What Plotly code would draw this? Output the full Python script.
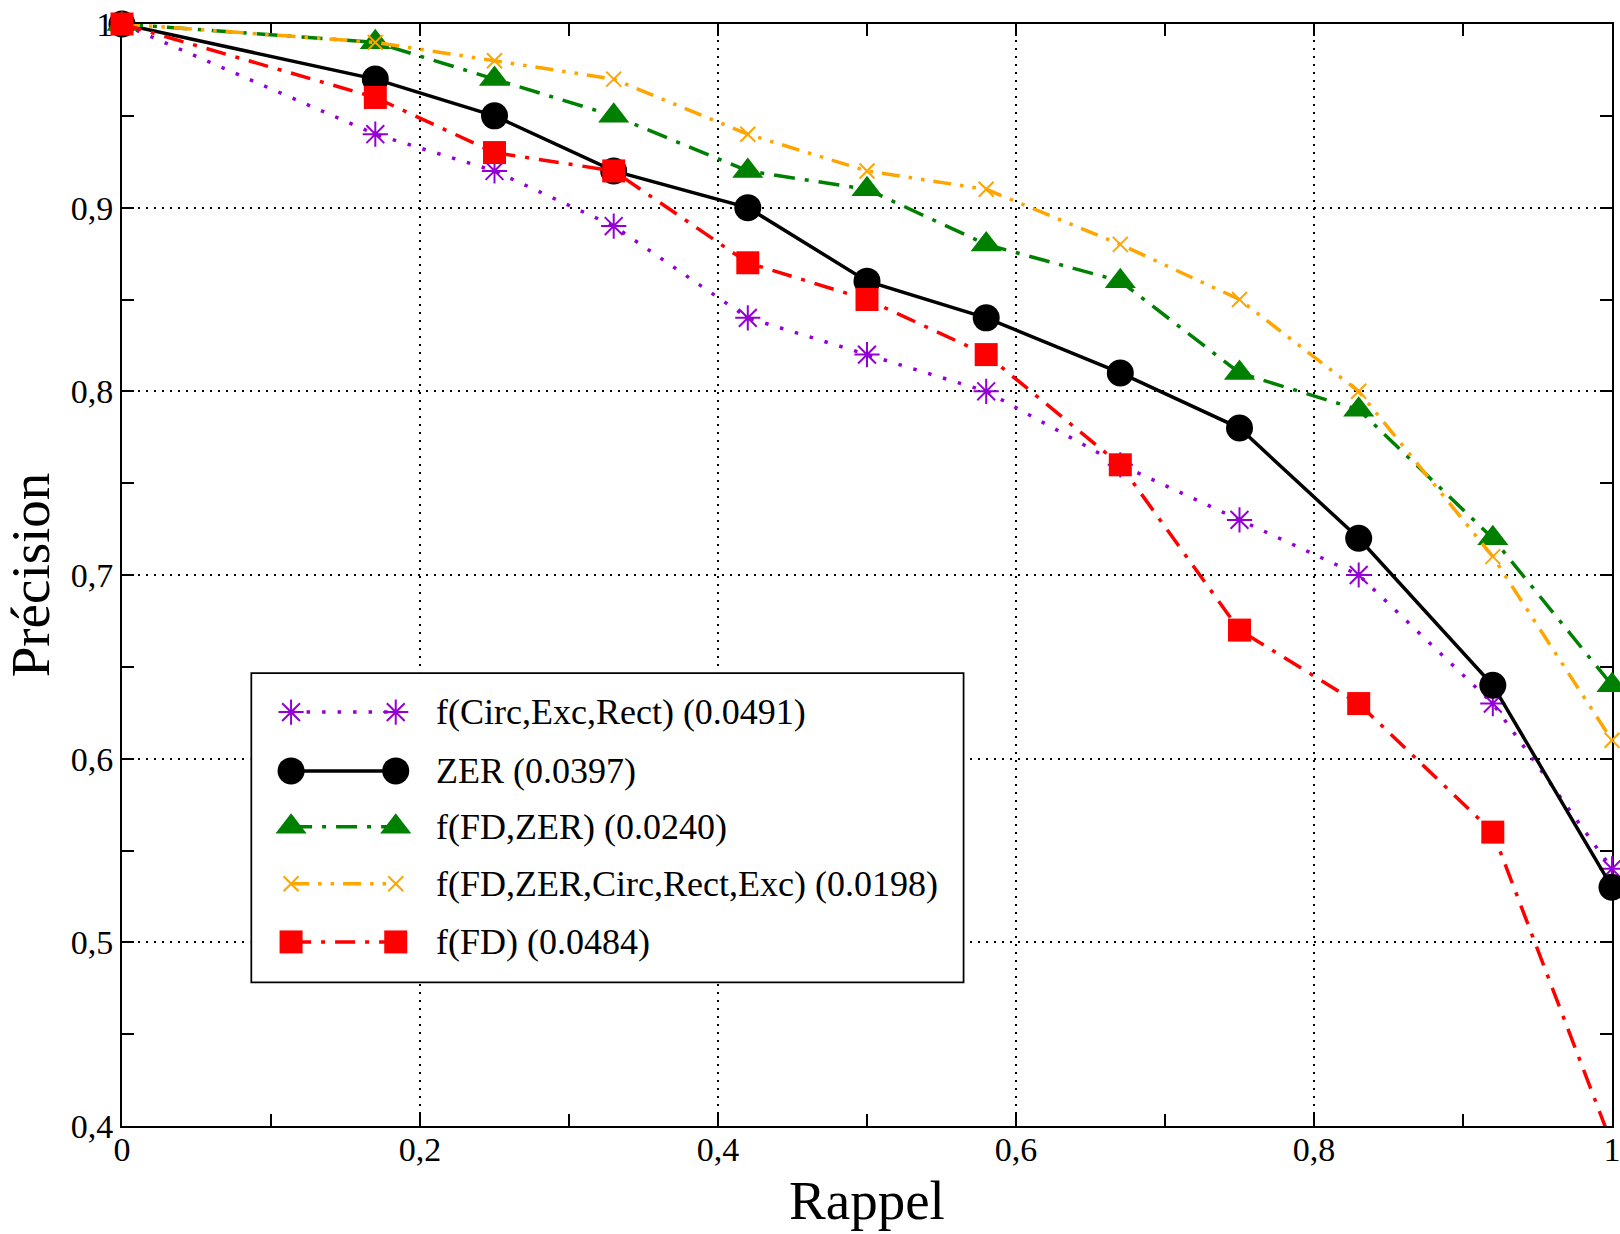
import plotly.graph_objects as go

# ---- data ----
rappel = [0, 0.17, 0.25, 0.33, 0.42, 0.5, 0.58, 0.67, 0.75, 0.83, 0.92, 1.0]
circ_exc_rect = [1.0, 0.94, 0.92, 0.89, 0.84, 0.82, 0.80, 0.76, 0.73, 0.70, 0.63, 0.54]
zer = [1.0, 0.97, 0.95, 0.92, 0.90, 0.86, 0.84, 0.81, 0.78, 0.72, 0.64, 0.53]
fd_zer = [1.0, 0.99, 0.97, 0.95, 0.92, 0.91, 0.88, 0.86, 0.81, 0.79, 0.72, 0.64]
fd_zer_all = [1.0, 0.99, 0.98, 0.97, 0.94, 0.92, 0.91, 0.88, 0.85, 0.80, 0.71, 0.61]
fd = [1.0, 0.96, 0.93, 0.92, 0.87, 0.85, 0.82, 0.76, 0.67, 0.63, 0.56, 0.39]

series_names = [
    "f(Circ,Exc,Rect) (0.0491)",
    "ZER (0.0397)",
    "f(FD,ZER) (0.0240)",
    "f(FD,ZER,Circ,Rect,Exc) (0.0198)",
    "f(FD) (0.0484)",
]
series_values = [circ_exc_rect, zer, fd_zer, fd_zer_all, fd]

x_tick_vals = [0, 0.2, 0.4, 0.6, 0.8, 1.0]
y_tick_vals = [0.4, 0.5, 0.6, 0.7, 0.8, 0.9, 1.0]

# ---- styles ----
styles = [
    dict(color="#9400D3", dash="3.5px,12px", width=3.5, symbol="asterisk-open", size=21, mlw=2),
    dict(color="#000000", dash="solid", width=3.5, symbol="circle", size=27, mlw=0),
    dict(color="#008000", dash="21px,10px,4px,10px", width=3.5, symbol="triangle-up", size=27, mlw=0),
    dict(color="#FFA500", dash="18px,9px,3.5px,9px,3.5px,9px", width=3.5, symbol="x-thin-open", size=15, mlw=2),
    dict(color="#FF0000", dash="20px,10px,4px,10px", width=3.5, symbol="square", size=23, mlw=0),
]

FONT = "Liberation Serif"

fig = go.Figure()

for name, vals, st in zip(series_names, series_values, styles):
    fig.add_trace(go.Scatter(
        x=rappel, y=vals, name=name, mode="lines+markers",
        line=dict(color=st["color"], width=st["width"], dash=st["dash"]),
        marker=dict(symbol=st["symbol"], size=st["size"], color=st["color"],
                    line=dict(color=st["color"], width=st["mlw"])),
        cliponaxis=False, showlegend=False,
    ))

# ---- hand-made legend (two markers joined by the line) in its own small subplot ----
leg_rows = [0.872, 0.683, 0.503, 0.320, 0.133]
leg_x = [0.0569, 0.2035]
for name, st, ry in zip(series_names, styles, leg_rows):
    fig.add_trace(go.Scatter(
        x=leg_x, y=[ry, ry], xaxis="x2", yaxis="y2", mode="lines+markers",
        line=dict(color=st["color"], width=st["width"], dash=st["dash"]),
        marker=dict(symbol=st["symbol"], size=st["size"], color=st["color"],
                    line=dict(color=st["color"], width=st["mlw"])),
        cliponaxis=False, showlegend=False, hoverinfo="skip",
    ))
    fig.add_annotation(x=0.2564, y=ry, xref="x2", yref="y2", text=name,
                       showarrow=False, xanchor="left", yanchor="middle", align="left",
                       font=dict(family=FONT, size=36, color="black"))

fig.add_shape(type="rect", xref="x2", yref="y2", x0=0, x1=1, y0=0, y1=1,
              line=dict(color="black", width=3.5), fillcolor="white", layer="below")

axis_common = dict(
    showline=True, linecolor="black", linewidth=2, mirror="ticks",
    ticks="inside", ticklen=12, tickcolor="rgba(0,0,0,0)", tickwidth=1.5,
    showgrid=True, gridcolor="black", gridwidth=1.5, griddash="2px,6px",
    zeroline=False, layer="below traces", automargin=False,
    ticklabeloverflow="allow",
    tickfont=dict(family=FONT, size=34, color="black"),
)

fig.update_layout(
    width=1620, height=1234,
    margin=dict(l=122, r=8, t=24, b=108),
    paper_bgcolor="white", plot_bgcolor="white",
    separators=",.",
    showlegend=False,
    xaxis=dict(
        range=[0, 1], tickvals=x_tick_vals,
        minor=dict(ticks="inside", ticklen=12, tickcolor="black", tickwidth=1.5,
                   dtick=0.1, tick0=0, showgrid=False),
        ticklabelstandoff=-8,
        title=dict(text="Rappel", font=dict(family=FONT, size=55, color="black"), standoff=14),
        **axis_common,
    ),
    yaxis=dict(
        range=[0.4, 1.0], tickvals=y_tick_vals,
        minor=dict(ticks="inside", ticklen=12, tickcolor="black", tickwidth=1.5,
                   dtick=0.05, tick0=0.4, showgrid=False),
        title=dict(text="Précision", font=dict(family=FONT, size=55, color="black"), standoff=3),
        **axis_common,
    ),
    xaxis2=dict(domain=[0.0862, 0.5654], range=[0, 1], visible=False, anchor="y2", fixedrange=True),
    yaxis2=dict(domain=[0.1295, 0.4117], range=[0, 1], visible=False, anchor="x2", fixedrange=True),
)

# remove the default page margin so the figure sits exactly in the window
post_js = "document.body.style.margin = '0';"

fig.write_html("out.html", post_script=post_js, config={"displayModeBar": False})
